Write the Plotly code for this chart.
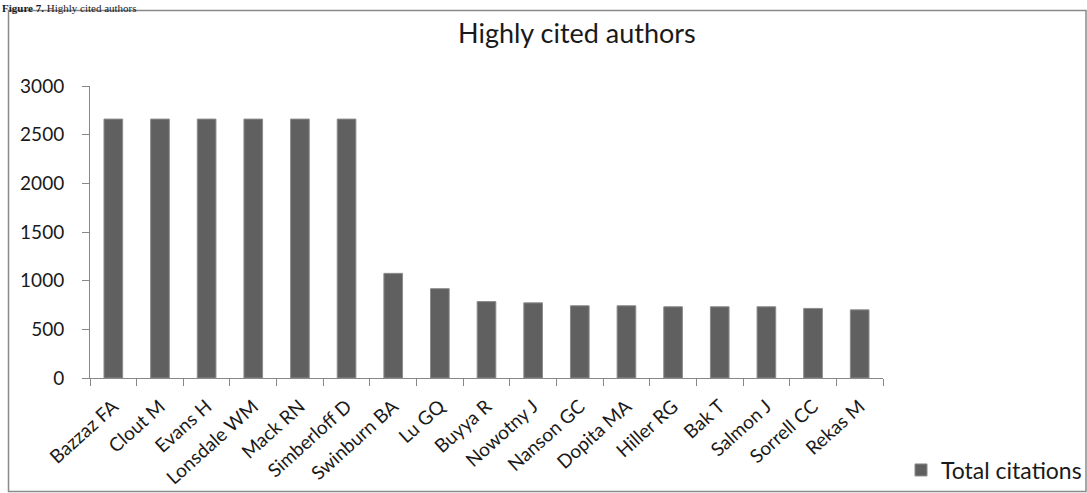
import plotly.graph_objects as go

authors = ["Bazzaz FA", "Clout M", "Evans H", "Lonsdale WM", "Mack RN", "Simberloff D",
           "Swinburn BA", "Lu GQ", "Buyya R", "Nowotny J", "Nanson GC", "Dopita MA",
           "Hiller RG", "Bak T", "Salmon J", "Sorrell CC", "Rekas M"]
citations = [2660, 2660, 2660, 2660, 2660, 2660, 1075, 918, 785, 772, 742, 742,
             732, 732, 732, 715, 700]
y_ticks = [0, 500, 1000, 1500, 2000, 2500, 3000]

FONT = "Lato"
L, R, T, B = 90, 204, 86, 115
PW = 1087 - L - R
PH = 493 - T - B

fig = go.Figure()
fig.add_trace(go.Bar(
    x=authors, y=citations, name="Total citations",
    marker=dict(color="#606060", line=dict(color="#8c8c8c", width=1)),
))

fig.update_layout(
    width=1087, height=493,
    margin=dict(l=L, r=R, t=T, b=B, autoexpand=False),
    paper_bgcolor="white", plot_bgcolor="white",
    bargap=0.6,
    font=dict(family=FONT, color="#1a1a1a", size=19),
    showlegend=True,
    legend=dict(x=(901 - L) / PW, xanchor="left", y=-(470 - 378) / PH, yanchor="middle",
                font=dict(size=23, family=FONT), bgcolor="rgba(0,0,0,0)",
                itemwidth=30),
    xaxis=dict(
        type="category", tickangle=-42, tickson="boundaries",
        ticks="outside", ticklen=7, tickcolor="#888888",
        showline=True, linecolor="#888888", linewidth=1,
        showgrid=False, tickfont=dict(size=19, family=FONT),
        ticklabelstandoff=9, automargin=False, ticklabeloverflow="allow",
    ),
    yaxis=dict(
        range=[0, 3000], tickvals=y_ticks, ticks="outside", ticklen=7,
        tickcolor="#888888", showline=True, linecolor="#888888", linewidth=1,
        showgrid=False, zeroline=False, tickfont=dict(size=19, family=FONT),
        ticklabelstandoff=14, automargin=False,
    ),
)

fig.add_annotation(
    text="Highly cited authors", xref="paper", yref="paper",
    x=(577 - L) / PW, y=1, yshift=T - 32, xanchor="center", yanchor="middle",
    showarrow=False, font=dict(size=27, family=FONT),
)
fig.add_annotation(
    text="<b>Figure 7.</b> Highly cited authors", xref="paper", yref="paper",
    x=0, xshift=-L, y=1, yshift=T, xanchor="left", yanchor="top",
    showarrow=False, font=dict(size=11, family="Liberation Serif"),
)
fig.add_shape(
    type="rect", xref="paper", yref="paper",
    x0=(8.5 - L) / PW, x1=(1086 - L) / PW,
    y0=-(491.5 - 378) / PH, y1=1 + (T - 10.5) / PH,
    line=dict(color="#8a8a8a", width=1.5), layer="below",
)

fig.write_html("out.html")
